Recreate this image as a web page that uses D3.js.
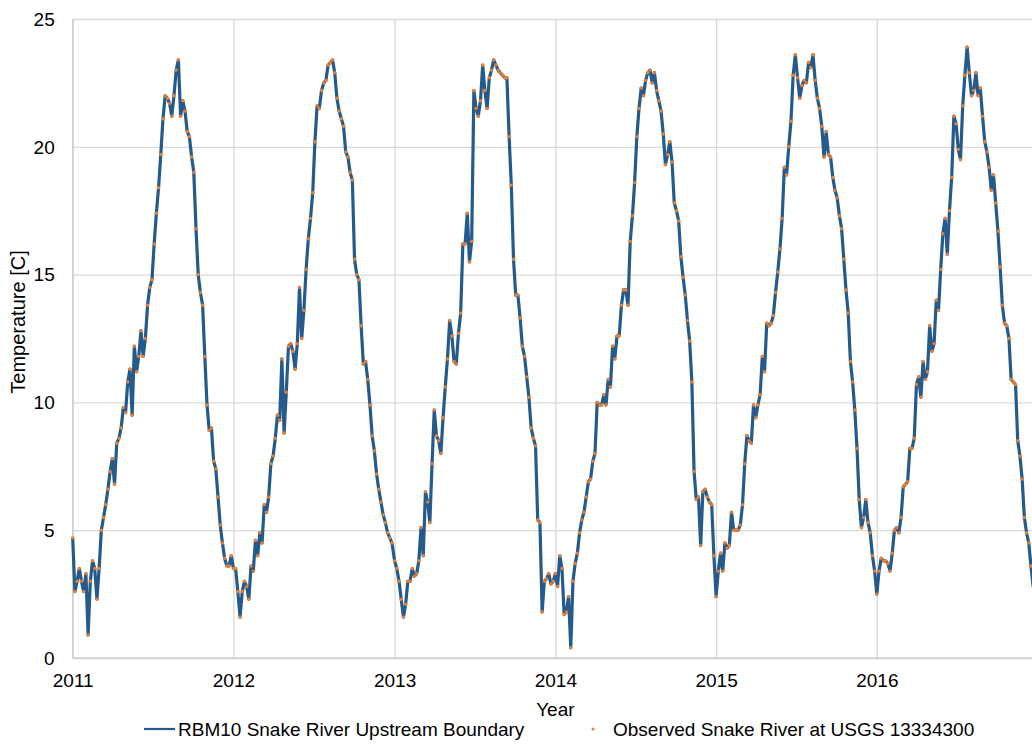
<!DOCTYPE html>
<html>
<head>
<meta charset="utf-8">
<script src="https://cdn.jsdelivr.net/npm/d3@7"></script>
<style>
body { margin: 0; background: #fff; }
text { font-family: "Liberation Sans", Arial, sans-serif; fill: #000; }
</style>
</head>
<body>
<div id="chart"></div>
<script>
// water temperature [C], one reading every 5 days starting Jan 1 of each year
const years = [2011, 2012, 2013, 2014, 2015, 2016];
const t2011 = [4.7, 2.6, 3.0, 3.5, 3.0, 2.6, 3.3, 0.9, 3.0, 3.8,
    3.5, 2.3, 3.5, 5.0, 5.5, 6.0, 6.6, 7.3, 7.8, 6.8,
    8.4, 8.6, 9.0, 9.8, 9.6, 10.8, 11.3, 9.5, 12.2, 11.2,
    11.8, 12.8, 11.8, 12.5, 13.8, 14.5, 14.8, 16.2, 17.4, 18.4,
    19.7, 21.1, 22.0, 21.9, 21.7, 21.2, 22.0, 23.0, 23.4, 21.2,
    21.8, 21.4, 20.6, 20.4, 19.6, 19.0, 16.8, 15.0, 14.3, 13.8,
    11.8, 9.9, 8.9, 9.0, 7.7, 7.4, 6.3, 5.2, 4.5, 3.9,
    3.6, 3.6, 4.0];
const t2012 = [3.5, 3.5, 2.6, 1.6, 2.6, 3.0, 2.8, 2.3, 3.6, 3.4,
    4.6, 4.0, 4.9, 4.5, 6.0, 5.7, 6.3, 7.6, 7.9, 8.6,
    9.5, 9.3, 11.7, 8.8, 10.4, 12.2, 12.3, 12.0, 11.3, 12.3,
    14.5, 12.5, 13.6, 15.2, 16.4, 17.2, 18.2, 20.2, 21.6, 21.5,
    22.2, 22.5, 22.6, 23.2, 23.3, 23.4, 22.9, 21.9, 21.4, 21.1,
    20.8, 19.8, 19.6, 19.0, 18.7, 15.6, 15.0, 14.8, 13.0, 11.5,
    11.6, 10.9, 9.9, 8.7, 8.1, 7.2, 6.6, 6.1, 5.6, 5.3,
    4.9, 4.7, 4.5];
const t2013 = [3.8, 3.5, 3.0, 2.3, 1.6, 2.1, 3.0, 3.0, 3.5, 3.2,
    3.3, 3.8, 5.1, 4.0, 6.5, 6.1, 5.3, 7.6, 9.7, 8.7,
    8.5, 8.0, 9.4, 10.6, 11.7, 13.2, 12.6, 11.6, 11.5, 12.7,
    13.5, 16.2, 16.2, 17.4, 15.5, 16.3, 22.2, 21.5, 21.2, 21.8,
    23.2, 22.2, 21.5, 22.7, 23.0, 23.4, 23.2, 23.0, 22.9, 22.8,
    22.7, 22.7, 20.4, 18.5, 15.6, 14.2, 14.2, 13.3, 12.2, 11.8,
    11.0, 10.2, 9.0, 8.6, 8.3, 5.4, 5.3, 1.8, 3.0, 3.1,
    3.3, 2.9, 3.0];
const t2014 = [3.3, 2.8, 4.0, 3.5, 1.7, 1.8, 2.4, 0.4, 3.0, 3.7,
    4.1, 4.9, 5.4, 5.7, 6.3, 6.9, 7.0, 7.7, 8.0, 10.0,
    9.9, 9.9, 10.3, 9.9, 10.9, 10.6, 12.2, 11.7, 12.6, 12.6,
    13.8, 14.4, 14.4, 13.8, 16.3, 17.3, 18.6, 20.4, 21.5, 22.3,
    22.0, 22.6, 22.9, 23.0, 22.5, 22.9, 22.2, 21.8, 21.4, 20.5,
    19.3, 19.7, 20.2, 19.4, 17.8, 17.5, 17.1, 15.7, 14.9, 14.2,
    13.2, 12.4, 10.8, 7.3, 6.2, 6.3, 4.4, 6.5, 6.6, 6.3,
    6.1, 6.0, 4.0];
const t2015 = [2.4, 3.4, 4.1, 3.4, 4.5, 4.3, 4.4, 5.7, 5.0, 5.0,
    5.0, 5.2, 6.0, 7.6, 8.7, 8.5, 8.4, 9.9, 9.4, 9.9,
    10.3, 11.8, 11.2, 13.1, 13.0, 13.1, 13.4, 14.3, 15.1, 16.0,
    17.2, 19.2, 18.9, 20.0, 21.0, 22.8, 23.6, 22.7, 21.9, 22.4,
    22.6, 22.5, 23.3, 23.1, 23.6, 22.6, 21.9, 21.5, 20.8, 19.6,
    20.6, 19.7, 19.6, 18.8, 18.3, 18.0, 17.3, 16.8, 15.6, 14.4,
    13.5, 11.6, 10.8, 9.7, 8.2, 6.2, 5.1, 5.5, 6.2, 5.3,
    4.9, 4.0, 3.4];
const t2016 = [2.5, 3.4, 3.9, 3.8, 3.8, 3.7, 3.4, 4.1, 5.0, 5.1,
    4.9, 5.5, 6.7, 6.8, 6.9, 8.2, 8.2, 8.6, 10.7, 11.0,
    10.2, 11.6, 10.9, 11.2, 13.0, 12.0, 12.3, 14.0, 13.6, 15.2,
    16.6, 17.2, 15.8, 17.5, 18.8, 21.2, 20.9, 19.9, 19.5, 21.6,
    22.8, 23.9, 22.9, 22.0, 22.2, 22.9, 22.0, 22.3, 21.2, 20.2,
    19.8, 19.2, 18.3, 18.9, 17.8, 16.7, 15.3, 13.8, 13.1, 13.0,
    12.5, 10.9, 10.8, 10.7, 8.5, 7.9, 7.0, 5.5, 4.9, 4.5,
    3.6, 2.8];
const yTicks = [0, 5, 10, 15, 20, 25];
const seriesNames = ["RBM10 Snake River Upstream Boundary", "Observed Snake River at USGS 13334300"];

(function () {
    let width = 1032, height = 744;
    let left = 72.7, right = 1038, top = 19, bottom = 658;
    let blue = "#255A8C", orange = "#ED7D31", grid = "#D9D9D9";

    // the model boundary is forced straight from the gauge readings
    let observed = [];
    [t2011, t2012, t2013, t2014, t2015, t2016].forEach((arr, k) => {
        arr.forEach((v, i) => observed.push({ date: new Date(years[k], 0, 1 + 5 * i), value: v }));
    });
    let upstream = observed;

    let svg = d3.select("#chart")
        .append("svg")
        .attr("width", width)
        .attr("height", height)
        .style("display", "block");
    svg.append("rect").attr("width", width).attr("height", height).attr("fill", "#fff");

    let x = d3.scaleTime()
        .domain([new Date(2011, 0, 1), new Date(2017, 0, 1)])
        .range([left, right]);
    let y = d3.scaleLinear()
        .domain([0, 25])
        .range([bottom, top]);

    // horizontal grid + y labels
    let yAxis = svg.append("g")
        .attr("transform", `translate(${left},0)`)
        .call(d3.axisLeft(y).tickValues(yTicks).tickSize(-(width - left)).tickPadding(18));
    yAxis.select(".domain").remove();
    yAxis.selectAll("line").attr("stroke", grid).attr("stroke-width", 1.3);
    yAxis.selectAll("text").attr("font-size", "19px").attr("dy", "0.33em");

    // vertical grid + year labels
    let xAxis = svg.append("g")
        .attr("transform", `translate(0,${bottom})`)
        .call(d3.axisBottom(x).ticks(d3.timeYear.every(1)).tickFormat(d3.timeFormat("%Y"))
            .tickSize(-(bottom - top)).tickPadding(16));
    xAxis.select(".domain").remove();
    xAxis.selectAll("line").attr("stroke", grid).attr("stroke-width", 1.3);
    xAxis.selectAll("text").attr("font-size", "19px");
    xAxis.selectAll(".tick").filter(d => d.getFullYear() > 2016).remove();

    // axis lines
    svg.append("line").attr("x1", left).attr("x2", left).attr("y1", top).attr("y2", bottom)
        .attr("stroke", "#CFCFCF").attr("stroke-width", 1.5);
    svg.append("line").attr("x1", left).attr("x2", width).attr("y1", bottom).attr("y2", bottom)
        .attr("stroke", "#CFCFCF").attr("stroke-width", 1.5);

    let line = d3.line()
        .x(d => x(d.date))
        .y(d => y(d.value));
    svg.append("path")
        .datum(upstream)
        .attr("fill", "none")
        .attr("stroke", blue)
        .attr("stroke-width", 3.2)
        .attr("stroke-linejoin", "round")
        .attr("d", line);
    svg.append("g")
        .selectAll("circle")
        .data(observed)
        .enter()
        .append("circle")
        .attr("cx", d => x(d.date))
        .attr("cy", d => y(d.value))
        .attr("r", 1.7)
        .attr("fill", orange);

    // axis titles
    svg.append("text")
        .attr("x", (left + right) / 2)
        .attr("y", 716)
        .attr("text-anchor", "middle")
        .attr("font-size", "19px")
        .text("Year");
    svg.append("text")
        .attr("transform", "translate(25,322) rotate(-90)")
        .attr("text-anchor", "middle")
        .attr("font-size", "20px")
        .text("Temperature [C]");

    // legend
    let lg = svg.append("g");
    lg.append("line").attr("x1", 144).attr("x2", 175).attr("y1", 729).attr("y2", 729)
        .attr("stroke", blue).attr("stroke-width", 2.2);
    lg.append("text").attr("x", 178).attr("y", 735.5).attr("font-size", "19px").text(seriesNames[0]);
    lg.append("circle").attr("cx", 593).attr("cy", 729).attr("r", 1.5).attr("fill", orange);
    lg.append("text").attr("x", 613).attr("y", 735.5).attr("font-size", "19px").text(seriesNames[1]);
})()
</script>
</body>
</html>
